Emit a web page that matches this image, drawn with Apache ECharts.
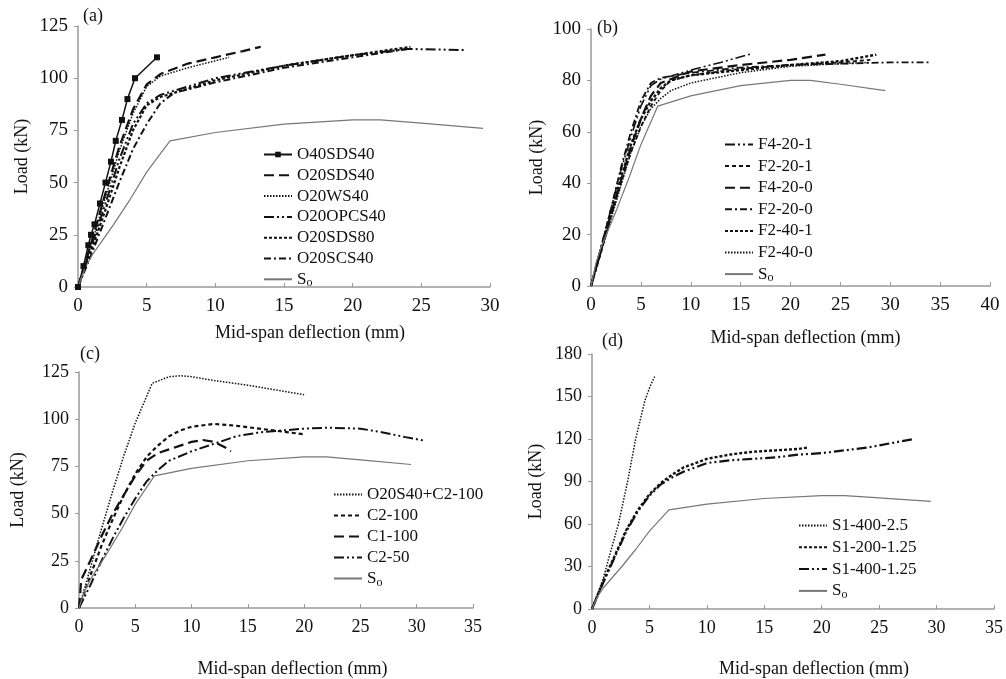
<!DOCTYPE html>
<html><head><meta charset="utf-8">
<script src="https://cdn.jsdelivr.net/npm/echarts@6/dist/echarts.min.js"></script>
<style>html,body{margin:0;padding:0;background:#fff}#c{width:1006px;height:679px}</style>
</head><body><div id="c"></div>
<script>
// ---- Data (x = mid-span deflection mm, y = load kN) ----
const soCurve = [[0,0],[0.5,9],[1,15],[2.6,30],[3.8,42],[5,55],[6.7,70],[10,74],[15,78],[20,80],[22,80],[25,78.5],[29.5,76]];

// panel (a)
const aNames = ['O40SDS40','O20SDS40','O20WS40','O20OPCS40','O20SDS80','O20SCS40','So'];
const a_O40SDS40 = [[0,0],[0.4,10],[0.75,20],[0.95,25],[1.2,30],[1.6,40],[2,50],[2.4,60],[2.75,70],[3.2,80],[3.6,90],[4.15,100],[5.75,110]];
const a_O20SDS40 = [[0,0],[1,22],[2,45],[3,67],[4,85],[5,97],[6,102],[8,107],[10,110],[12,113],[13.3,115]];
const a_O20WS40 = [[0,0],[1,21],[2,43],[3,65],[4,83],[5,96],[6,101],[8,105],[11,110]];
const a_O20OPCS40 = [[0,0],[1,20],[2,40],[3,61],[4,78],[5,88],[6,92],[8,96],[10,100],[15,106],[20,111],[24,114],[28.2,113.5]];
const a_O20SDS80 = [[0,0],[1,18],[2,37],[3,57],[4,75],[5,87],[6,91],[8,95],[10,99],[15,106],[20,111],[24.2,115]];
const a_O20SCS40 = [[0,0],[1,16],[2,33],[3,50],[4,66],[5,78],[6,88],[7,93],[10,98],[15,105],[20,110],[24,114]];

// panel (b)
const bNames = ['F4-20-1','F2-20-1','F4-20-0','F2-20-0','F2-40-1','F2-40-0','So'];
const b_F4201 = [[0,0],[1,15],[2,30],[3,45],[4,58],[5,70],[6,78],[7,80.5],[10,84],[13,87],[16.2,90.5]];
const b_F2201 = [[0,0],[1,13],[2,27],[3,40],[4,52],[5,62],[6,70],[7,76],[8,80],[10,82],[15,84.5],[20,86],[25,87],[28,88]];
const b_F4200 = [[0,0],[1,14],[2,28],[3,41],[4,54],[5,65],[6,74],[7,79],[10,83.5],[15,86],[20,88],[23.5,90]];
const b_F2200 = [[0,0],[1,15],[2,30],[3,46],[4,60],[5,72],[6,79],[7,81],[10,83],[15,85],[20,86],[25,86.5],[30,87],[34,87]];
const b_F2401 = [[0,0],[1,14],[2,28],[3,42],[4,55],[5,65],[6,72],[7,77],[8,80],[10,82],[15,84],[20,86],[25,87.5],[28.6,90]];
const b_F2400 = [[0,0],[1,13],[2,26],[3,39],[4,52],[5,62],[6,69],[7,73],[8,76],[10,79],[15,83],[20,85.5],[25,86.5],[28,87]];

// panel (c)
const cNames = ['O20S40+C2-100','C2-100','C1-100','C2-50','So'];
const c_O20S40C2100 = [[0,0],[1,21],[2,42],[3,62],[4,81],[5,98],[6,112],[6.5,119],[8,122.5],[9,123],[10,122.5],[12,120.5],[15,118],[18,115],[20,113]];
const c_C2100 = [[0,0],[1,17],[2,33],[3,47],[4,60],[5,71],[6,80],[7,86],[8,91],[9,94],[10,96],[12,97.5],[14,96.5],[16,95],[18,93.5],[20,92]];
const c_C1100 = [[0,0],[0.2,15],[1,25],[2,38],[3,50],[4,60],[5,70],[6,78],[7,82],[8,84],[9,86],[10,88],[11,89],[12,88],[13,85],[13.5,83]];
const c_C250 = [[0,0],[1,12],[2,25],[3,37],[4,48],[5,58],[6,67],[7,73],[8,78],[10,83],[12,87],[14,91],[16,93],[18,94],[20,95],[22,95.5],[25,95],[27,93],[29,90.5],[30.8,88.5]];

// panel (d)
const dNames = ['S1-400-2.5','S1-200-1.25','S1-400-1.25','So'];
const d_S14002_5 = [[0,0],[1,22],[1.5,37],[2.3,60],[3.1,90],[3.8,120],[4.6,147],[5.1,158],[5.45,164]];
const d_S12001_25 = [[0,0],[1,20],[2,38],[3,56],[4,70],[5,81],[6,89],[7,95],[8,100],[10,106],[12,109],[14,111],[16,112],[18,113],[18.8,114]];
const d_S14001_25 = [[0,0],[1,19],[2,37],[3,55],[4,69],[5,80],[6,88],[7,93],[8,97],[10,103],[12,105],[14,106],[16,107],[18,109],[20,110],[22,112],[24,114],[26,117],[28,120]];

// ---- styles ----
const FONT = 'Liberation Serif';
const DASH = {
  longdash: [10,5],
  shortdash: [4,3],
  dotted: [1.5,1.5],
  dashdotdot: [10,3,2,3,2,3],
  dashdot: [7,3,2,3],
  dense: [3,2]
};
function line(name, data, idx, type, width, opts) {
  const s = {
    name: name, type: 'line', data: data, xAxisIndex: idx, yAxisIndex: idx,
    symbol: 'none', animation: false,
    lineStyle: {color: '#111', width: width, type: type},
    itemStyle: {color: '#111'}
  };
  return Object.assign(s, opts || {});
}
function so(idx) {
  return {name: 'So', type: 'line', data: soCurve, xAxisIndex: idx, yAxisIndex: idx, symbol: 'none', animation: false,
    lineStyle: {color: '#777', width: 1.2, type: 'solid'}, itemStyle: {color: '#777'}};
}

const grids = [
  {left: 78, top: 26, width: 412, height: 261},
  {left: 591, top: 29, width: 399, height: 257},
  {left: 79, top: 372, width: 394, height: 243},
  {left: 592, top: 354, width: 403, height: 260}
];
const xMax = [30, 40, 35, 35];
const yMax = [125, 100, 125, 180];
const yInt = [25, 20, 25, 30];
const xGap = [37, 43, 52, 51];
const xShift = [52, 30, 33, 42];
const yGap = [47, 45, 52, 47];
const tickFs = [19, 19, 18, 18];

const xAxes = grids.map((g, i) => ({
  gridIndex: i, type: 'value', min: 0, max: xMax[i], interval: 5,
  name: 'Mid-span deflection (mm)', nameLocation: 'middle', nameGap: xGap[i],
  nameTextStyle: {fontFamily: FONT, fontSize: 18, color: '#111', padding: [0, 0, 0, xShift[i]]},
  axisLine: {lineStyle: {color: '#999', width: 1.5}},
  axisTick: {inside: true, length: 4, lineStyle: {color: '#999'}},
  axisLabel: {fontFamily: FONT, fontSize: tickFs[i], color: '#111', margin: 10},
  splitLine: {show: false}
}));
const yAxes = grids.map((g, i) => ({
  gridIndex: i, type: 'value', min: 0, max: yMax[i], interval: yInt[i],
  name: 'Load (kN)', nameLocation: 'middle', nameGap: yGap[i],
  nameTextStyle: {fontFamily: FONT, fontSize: 18, color: '#111'},
  axisLine: {show: true, lineStyle: {color: '#999', width: 1.5}},
  axisTick: {show: true, length: 4, lineStyle: {color: '#999'}},
  axisLabel: {fontFamily: FONT, fontSize: tickFs[i], color: '#111', margin: 10},
  splitLine: {show: false}
}));

const series = [
  line('O40SDS40', a_O40SDS40, 0, 'solid', 1.5, {symbol: 'rect', symbolSize: 6, showSymbol: true}),
  line('O20SDS40', a_O20SDS40, 0, DASH.longdash, 2.2),
  line('O20WS40', a_O20WS40, 0, DASH.dotted, 1.5),
  line('O20OPCS40', a_O20OPCS40, 0, DASH.dashdotdot, 2),
  line('O20SDS80', a_O20SDS80, 0, DASH.dense, 2.2),
  line('O20SCS40', a_O20SCS40, 0, DASH.dashdot, 2),
  so(0),
  line('F4-20-1', b_F4201, 1, DASH.dashdotdot, 1.6),
  line('F2-20-1', b_F2201, 1, DASH.shortdash, 1.8),
  line('F4-20-0', b_F4200, 1, DASH.longdash, 2.2),
  line('F2-20-0', b_F2200, 1, DASH.dashdot, 1.8),
  line('F2-40-1', b_F2401, 1, DASH.dense, 2.4),
  line('F2-40-0', b_F2400, 1, DASH.dotted, 1.5),
  so(1),
  line('O20S40+C2-100', c_O20S40C2100, 2, DASH.dotted, 1.5),
  line('C2-100', c_C2100, 2, DASH.shortdash, 2.2),
  line('C1-100', c_C1100, 2, DASH.longdash, 2.2),
  line('C2-50', c_C250, 2, DASH.dashdotdot, 2),
  so(2),
  line('S1-400-2.5', d_S14002_5, 3, DASH.dotted, 1.5),
  line('S1-200-1.25', d_S12001_25, 3, DASH.dense, 2.4),
  line('S1-400-1.25', d_S14001_25, 3, DASH.dashdotdot, 2.2),
  so(3)
];
series.forEach((s, i) => { s.id = 's' + i; });

const markerNames = ['O40SDS40'];
function legend(names, left, top, gap) {
  return {
    orient: 'vertical', left: left, top: top, itemWidth: 28, itemHeight: 7, itemGap: gap,
    data: names.map(n => markerNames.includes(n) ? {name: n} : {name: n, itemStyle: {opacity: 0}}),
    selectedMode: false,
    formatter: n => n === 'So' ? '{n|S}{s|o}' : n,
    textStyle: {fontFamily: FONT, fontSize: 17, color: '#111',
      rich: {n: {fontFamily: FONT, fontSize: 17, color: '#111'}, s: {fontFamily: FONT, fontSize: 12, color: '#111', padding: [8, 0, 0, 0]}}}
  };
}

const tStyle = {fontFamily: FONT, fontSize: 18, fontWeight: 'normal', color: '#111'};
const option = {
  backgroundColor: '#fff',
  animation: false,
  title: [
    {text: '(a)', left: 78, top: 2, textStyle: tStyle},
    {text: '(b)', left: 592, top: 14, textStyle: tStyle},
    {text: '(c)', left: 75, top: 340, textStyle: tStyle},
    {text: '(d)', left: 597, top: 327, textStyle: tStyle}
  ],
  grid: grids,
  xAxis: xAxes,
  yAxis: yAxes,
  legend: [
    legend(aNames, 258, 141, 3.8),
    legend(bNames, 719, 131, 4.6),
    legend(cNames, 328, 481, 4),
    legend(dNames, 793, 512, 4.8)
  ],
  series: series
};
const chart = echarts.init(document.getElementById('c'), null, {renderer: 'canvas'});
chart.setOption(option);
</script></body></html>
